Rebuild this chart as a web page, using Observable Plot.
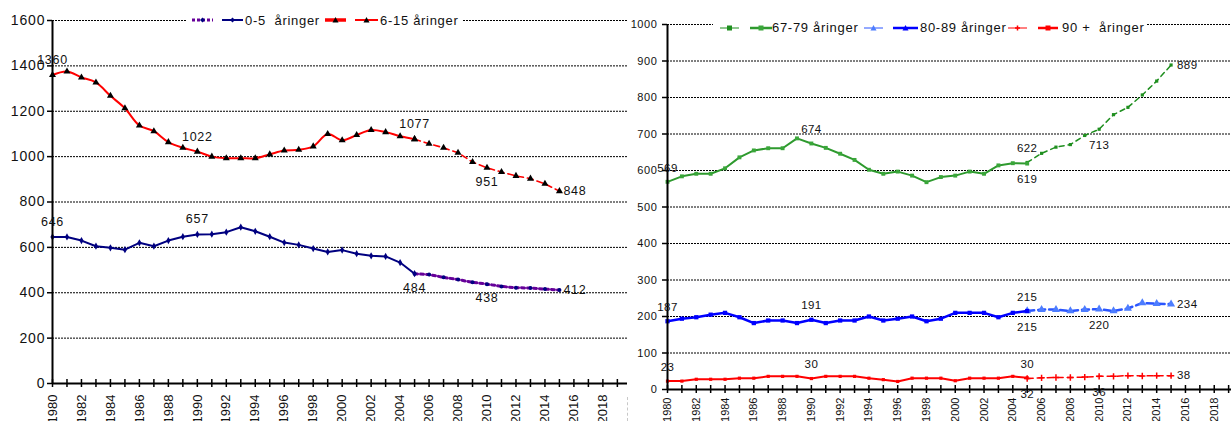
<!DOCTYPE html>
<html><head><meta charset="utf-8">
<script src="https://cdn.jsdelivr.net/npm/d3@7"></script>
<script src="https://cdn.jsdelivr.net/npm/@observablehq/plot@0.6"></script>
<style>
html,body{margin:0;padding:0;background:#fff;}
#wrap{position:relative;width:1231px;height:421px;overflow:hidden;font-family:"Liberation Sans",Arial,sans-serif;}
#left,#right{position:absolute;top:0;}
#left{left:0;} #right{left:628px;}
#left svg,#right svg{overflow:visible;}
.legend{position:absolute;background:#fff;height:18px;}
.legend .it{position:absolute;top:0;height:18px;display:flex;align-items:center;}
.legend span{font-size:13px;color:#111;white-space:pre;letter-spacing:0.7px;}
#left g[aria-label="y-axis tick label"] text{letter-spacing:0.9px;}
#right g[aria-label="y-axis tick label"] text{letter-spacing:0.6px;}
#left g[aria-label="text"] text{letter-spacing:0.7px;}
#right g[aria-label="text"] text{letter-spacing:0.4px;}
#sep{position:absolute;left:627px;top:397px;height:24px;border-left:1px dashed #c8c8c8;}
</style></head><body>
<div id="wrap"><div id="left"></div><div id="right"></div><div id="sep"></div></div>
<script>
// ---------- data ----------
const histYears = [1980,1981,1982,1983,1984,1985,1986,1987,1988,1989,1990,1991,1992,1993,1994,1995,1996,1997,1998,1999,2000,2001,2002,2003,2004,2005];
const projYears = [2005,2006,2007,2008,2009,2010,2011,2012,2013,2014,2015];
const axisYears = [1980,1981,1982,1983,1984,1985,1986,1987,1988,1989,1990,1991,1992,1993,1994,1995,1996,1997,1998,1999,2000,2001,2002,2003,2004,2005,2006,2007,2008,2009,2010,2011,2012,2013,2014,2015,2016,2017,2018,2019];
const labelYears = [1980,1982,1984,1986,1988,1990,1992,1994,1996,1998,2000,2002,2004,2006,2008,2010,2012,2014,2016,2018];
const leftYTicks = [0,200,400,600,800,1000,1200,1400,1600];
const rightYTicks = [0,100,200,300,400,500,600,700,800,900,1000];

const age0_5   = [646,646,630,605,598,590,620,605,630,647,657,658,667,689,671,647,621,611,595,580,588,572,563,560,533,484];
const proj0_5  = [484,480,468,458,446,438,428,422,421,416,412];
const age6_15  = [1360,1375,1349,1327,1268,1213,1137,1112,1064,1039,1022,1000,993,993,993,1010,1027,1030,1045,1100,1072,1095,1117,1108,1090,1077];
const proj6_15 = [1077,1057,1039,1017,976,951,932,915,903,880,848];

const age67_79  = [569,584,591,591,606,636,655,661,661,688,674,662,646,629,602,591,597,586,568,582,586,597,591,614,620,619];
const proj67_79 = [622,647,664,671,696,713,753,773,807,845,889];
const age80_89  = [187,194,198,205,210,198,182,189,189,182,191,182,189,189,200,189,194,200,187,194,210,210,210,198,210,215];
const proj80_89 = [215,219,219,215,219,220,215,222,237,235,234];
const age90     = [23,23,28,28,28,31,31,36,36,36,30,36,36,36,31,27,22,31,31,31,24,31,31,31,36,32];
const proj90    = [30,32,33,33,34,36,36,38,37,38,38];

// data labels: [year, value]
const leftAbove  = [[1980,646],[1990,657],[1980,1360],[1990,1022],[2005,1077]];
const leftBelow  = [[2005,484],[2010,438],[2010,951]];
const leftRight  = [[2015,412],[2015,848]];
const rightAbove = [[1980,569],[1990,674],[2005,622],[1980,187],[1990,191],[2005,215],[1980,23],[1990,30],[2005,30]];
const rightBelow = [[2005,619],[2010,713],[2005,215],[2010,220],[2005,32],[2010,36]];
const rightRight = [[2015,889],[2015,234],[2015,38]];

const pts = (ys, vs) => ys.map((y, i) => ({year: y, value: vs[i]}));
const FONT = "'Liberation Sans', Arial, sans-serif";

function lineSeries(data, o) {
  return [
    Plot.line(data, {x: "year", y: "value", stroke: o.stroke, strokeWidth: o.width, strokeDasharray: o.dash, curve: o.curve || "linear"}),
    Plot.dot(data, {x: "year", y: "value", symbol: o.symbol, r: o.r, fill: o.symbol === "plus" ? "none" : o.mfill, stroke: o.symbol === "plus" ? o.mfill : "none", strokeWidth: 1.5})
  ];
}
function frameMarks(yTicks, plotH, xFont, yFont, tickPad, yPad) {
  return [
    Plot.ruleY(yTicks.filter(d => d > 0), {y: d => d, stroke: "#000", strokeWidth: 1, strokeDasharray: "2,1"}),
    Plot.axisY({ticks: yTicks, tickSize: 5, tickPadding: yPad, fontSize: yFont, tickFormat: d => String(d), label: null, stroke: "#000", strokeWidth: 1.5}),
    Plot.axisX({ticks: labelYears, tickSize: 0, tickPadding: tickPad, tickRotate: -90, fontSize: xFont, tickFormat: d => String(d), label: null})
  ];
}
function axisLines(plotH) {
  return [
    Plot.ruleY([0], {y: d => d, stroke: "#000", strokeWidth: 2}),
    Plot.ruleX([1980], {x: d => d, stroke: "#000", strokeWidth: 2}),
    Plot.ruleX(axisYears, {x: d => d, stroke: "#000", strokeWidth: 1.5, insetTop: plotH - 4, insetBottom: -4})
  ];
}
function labels(above, below, right, fs, dyA, dyB, dxR) {
  return [
    Plot.text(above, {x: d => d[0], y: d => d[1], text: d => String(d[1]), dy: dyA, fontSize: fs, fill: "#111"}),
    Plot.text(below, {x: d => d[0], y: d => d[1], text: d => String(d[1]), dy: dyB, fontSize: fs, fill: "#111"}),
    Plot.text(right, {x: d => d[0], y: d => d[1], text: d => String(d[1]), dx: dxR, textAnchor: "start", fontSize: fs, fill: "#111"})
  ];
}

// ---------- left chart ----------
const LH = 421, LT = 20, LB = 38;
const leftPlot = Plot.plot({
  width: 628, height: LH, marginLeft: 52, marginRight: 1, marginTop: LT, marginBottom: LB,
  x: {domain: [1980, 2019.7]},
  y: {domain: [0, 1600]},
  style: {fontFamily: FONT, fontSize: "14px", color: "#111", background: "transparent"},
  marks: [
    ...frameMarks(leftYTicks, LH - LT - LB, 13, 14, 11, 2),
    ...lineSeries(pts(projYears, proj0_5), {stroke: "#660099", width: 3, dash: "3,3", symbol: "circle", r: 2, mfill: "#000080"}),
    ...lineSeries(pts(histYears, age0_5), {stroke: "#000080", width: 2, symbol: "diamond", r: 2.2, mfill: "#000080"}),
    ...lineSeries(pts(projYears, proj6_15), {stroke: "#ff0000", width: 1.6, dash: "6,4", symbol: "triangle", r: 2.6, mfill: "#000"}),
    ...lineSeries(pts(histYears, age6_15), {stroke: "#ff0000", width: 2, curve: "catmull-rom", symbol: "triangle", r: 2.6, mfill: "#000"}),
    ...axisLines(LH - LT - LB),
    ...labels(leftAbove, leftBelow, leftRight, 12.5, -15, 14, 4)
  ]
});
document.getElementById("left").appendChild(leftPlot);

// ---------- right chart ----------
const RH = 421, RT = 24, RB = 32;
const rightPlot = Plot.plot({
  width: 603, height: RH, marginLeft: 39, marginRight: 0, marginTop: RT, marginBottom: RB,
  x: {domain: [1980, 2019.2]},
  y: {domain: [0, 1000]},
  style: {fontFamily: FONT, fontSize: "11px", color: "#111", background: "transparent"},
  marks: [
    ...frameMarks(rightYTicks, RH - RT - RB, 11, 11, 8, 5),
    ...lineSeries(pts(projYears, proj67_79), {stroke: "#1f8f1f", width: 1.5, dash: "5,4", symbol: "square", r: 1.8, mfill: "#1f8f1f"}),
    ...lineSeries(pts(histYears, age67_79), {stroke: "#2e9a2e", width: 2, symbol: "square", r: 2.2, mfill: "#3aa63a"}),
    ...lineSeries(pts(projYears, proj80_89), {stroke: "#2a55ff", width: 2.5, dash: "7,4", symbol: "triangle", r: 3, mfill: "#4d7dff"}),
    ...lineSeries(pts(histYears, age80_89), {stroke: "#0000ff", width: 2.5, symbol: "square", r: 2.4, mfill: "#0000ff"}),
    ...lineSeries(pts(projYears, proj90), {stroke: "#ff0000", width: 1.5, dash: "6,4", symbol: "plus", r: 2.2, mfill: "#ff0000"}),
    ...lineSeries(pts(histYears, age90), {stroke: "#ff0000", width: 2, symbol: "square", r: 1.8, mfill: "#ff0000"}),
    ...axisLines(RH - RT - RB),
    ...labels(rightAbove, rightBelow, rightRight, 11.5, -14, 16, 6)
  ]
});
document.getElementById("right").appendChild(rightPlot);

// ---------- legends ----------
function swatch(w, color, sw, dash, marker, mcolor) {
  const c = w / 2, y = 9;
  let m = "";
  if (marker === "tri") m = `<polygon points="${c-3},${y+2.5} ${c+3},${y+2.5} ${c},${y-3}" fill="${mcolor}"/>`;
  else if (marker === "sq") m = `<rect x="${c-2.5}" y="${y-2.5}" width="5" height="5" fill="${mcolor}"/>`;
  else if (marker === "dia") m = `<polygon points="${c-2.5},${y} ${c},${y-2.5} ${c+2.5},${y} ${c},${y+2.5}" fill="${mcolor}"/>`;
  else if (marker === "plus") m = `<path d="M${c-2.5},${y}H${c+2.5}M${c},${y-2.5}V${y+2.5}" stroke="${mcolor}" stroke-width="1.5"/>`;
  return `<svg width="${w}" height="18"><line x1="0" x2="${w}" y1="${y}" y2="${y}" stroke="${color}" stroke-width="${sw}" ${dash ? `stroke-dasharray="${dash}"` : ""}/>${m}</svg>`;
}
function legend(left, top, width, items) {
  const box = document.createElement("div");
  box.className = "legend";
  box.style.left = left + "px"; box.style.top = top + "px"; box.style.width = width + "px";
  for (const it of items) {
    const d = document.createElement("div");
    d.className = "it";
    d.style.left = (it.x - left) + "px";
    d.innerHTML = it.text != null ? `<span>${it.text}</span>` : swatch(it.w, it.color, it.sw, it.dash, it.marker, it.mcolor);
    box.appendChild(d);
  }
  document.getElementById("wrap").appendChild(box);
}
legend(187, 11, 276, [
  {x: 192, w: 21, color: "#660099", sw: 3, dash: "3,2", marker: "dia", mcolor: "#000080"},
  {x: 222, w: 21, color: "#000080", sw: 2, marker: "dia", mcolor: "#000080"},
  {x: 245, text: "0-5  åringer"},
  {x: 325, w: 21, color: "#ff0000", sw: 3.5, marker: "tri", mcolor: "#000"},
  {x: 355, w: 23, color: "#ff0000", sw: 2, marker: "tri", mcolor: "#000"},
  {x: 380, text: "6-15 åringer"}
]);
legend(713, 18.5, 434, [
  {x: 720, w: 19, color: "#1f8f1f", sw: 1, marker: "sq", mcolor: "#1f8f1f"},
  {x: 750, w: 22, color: "#2e9a2e", sw: 2.5, marker: "sq", mcolor: "#3aa63a"},
  {x: 772, text: "67-79 åringer"},
  {x: 864, w: 19, color: "#2a55ff", sw: 1, marker: "tri", mcolor: "#4d7dff"},
  {x: 893, w: 25, color: "#0000ff", sw: 2.5, marker: "tri", mcolor: "#0000ff"},
  {x: 920, text: "80-89 åringer"},
  {x: 1008, w: 19, color: "#ff0000", sw: 1, marker: "plus", mcolor: "#ff0000"},
  {x: 1038, w: 20, color: "#ff0000", sw: 2.5, marker: "sq", mcolor: "#ff0000"},
  {x: 1062, text: "90 +  åringer"}
]);
</script>
</body></html>
